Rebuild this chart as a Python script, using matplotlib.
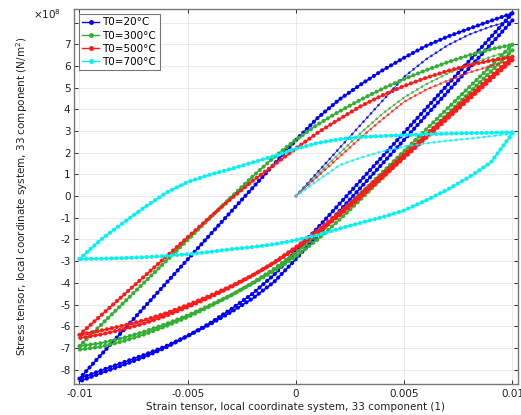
import numpy as np
import matplotlib
matplotlib.use('Agg')
import matplotlib.pyplot as plt
from matplotlib.lines import Line2D


# strain grids (units of 1e-3)
STRAIN_INIT = [0, 1, 2, 3, 4, 5, 6, 7, 8, 9, 10]
STRAIN_UP = [-10, -9, -8, -7, -6, -5, -4, -3, -2, -1, 0,
             1, 2, 3, 4, 5, 6, 7, 8, 9, 10]
STRAIN_DOWN = [10, 9, 8, 7, 6, 5, 4, 3, 2, 1, 0,
               -1, -2, -3, -4, -5, -6, -7, -8, -9, -10]

# stress (units of 1e8 N/m^2)
# T0 = 20 C
T20_INIT = [0, 1.1, 2.2, 3.3, 4.4, 5.5, 6.3, 6.95, 7.45, 7.82, 8.1]
T20_DOWN1 = [8.1, 7.0, 5.9, 4.8, 3.7, 2.6, 1.5, 0.4, -0.7, -1.8, -2.9,
             -3.95, -4.72, -5.35, -5.93, -6.45, -6.92, -7.32, -7.68, -8.04, -8.42]
T20_UP = [-8.42, -7.32, -6.22, -5.12, -4.02, -2.92, -1.82, -0.72, 0.38, 1.48, 2.58,
          3.6, 4.45, 5.15, 5.8, 6.38, 6.92, 7.35, 7.72, 8.08, 8.43]
T20_DOWN2 = [8.43, 7.33, 6.23, 5.13, 4.03, 2.93, 1.83, 0.73, -0.37, -1.47, -2.55,
             -3.62, -4.5, -5.22, -5.88, -6.45, -6.98, -7.42, -7.8, -8.16, -8.55]

# T0 = 300 C
T300_INIT = [0, 0.98, 1.96, 2.92, 3.8, 4.55, 5.15, 5.65, 6.07, 6.42, 6.72]
T300_DOWN1 = [6.72, 5.74, 4.76, 3.78, 2.8, 1.82, 0.84, -0.14, -1.1, -2.0, -2.78,
              -3.45, -4.03, -4.57, -5.05, -5.5, -5.9, -6.25, -6.55, -6.78, -6.92]
T300_UP = [-6.92, -5.94, -4.96, -3.98, -3.0, -2.02, -1.04, -0.06, 0.9, 1.8, 2.6,
           3.3, 3.9, 4.45, 4.95, 5.4, 5.8, 6.17, 6.5, 6.77, 6.98]
T300_DOWN2 = [6.98, 6.0, 5.02, 4.04, 3.06, 2.08, 1.1, 0.12, -0.84, -1.75, -2.6,
              -3.35, -4.0, -4.58, -5.1, -5.58, -6.0, -6.38, -6.7, -6.95, -7.08]

# T0 = 500 C
T500_INIT = [0, 0.9, 1.8, 2.7, 3.55, 4.35, 4.9, 5.32, 5.7, 6.0, 6.27]
T500_DOWN1 = [6.27, 5.37, 4.47, 3.57, 2.67, 1.77, 0.87, -0.03, -0.9, -1.7, -2.42,
              -3.08, -3.65, -4.15, -4.6, -5.02, -5.4, -5.72, -5.98, -6.2, -6.4]
T500_UP = [-6.4, -5.5, -4.6, -3.7, -2.8, -1.9, -1.0, -0.12, 0.7, 1.45, 2.2,
           2.92, 3.55, 4.15, 4.65, 5.08, 5.45, 5.77, 6.04, 6.25, 6.42]
T500_DOWN2 = [6.42, 5.52, 4.62, 3.72, 2.82, 1.92, 1.02, 0.12, -0.76, -1.58, -2.35,
              -3.05, -3.66, -4.2, -4.68, -5.12, -5.52, -5.87, -6.15, -6.38, -6.55]

# T0 = 700 C
T700_INIT = [0, 0.72, 1.42, 1.78, 2.06, 2.28, 2.43, 2.55, 2.65, 2.76, 2.88]
T700_DOWN = [2.9, 1.55, 0.88, 0.3, -0.2, -0.66, -0.97, -1.23, -1.5, -1.8, -2.03,
             -2.22, -2.35, -2.45, -2.58, -2.68, -2.76, -2.82, -2.86, -2.89, -2.9]
T700_UP = [-2.9, -2.0, -1.25, -0.52, 0.15, 0.65, 0.98, 1.25, 1.55, 1.85, 2.18,
           2.45, 2.62, 2.72, 2.77, 2.81, 2.85, 2.88, 2.9, 2.92, 2.94]

LABELS = ['T0=20°C', 'T0=300°C', 'T0=500°C', 'T0=700°C']
COLORS = ['#0000ff', '#33b033', '#ff1a1a', '#00f2f2']

CURVES = [
    (T20_INIT, [(STRAIN_DOWN, T20_DOWN1), (STRAIN_UP, T20_UP), (STRAIN_DOWN, T20_DOWN2)]),
    (T300_INIT, [(STRAIN_DOWN, T300_DOWN1), (STRAIN_UP, T300_UP), (STRAIN_DOWN, T300_DOWN2)]),
    (T500_INIT, [(STRAIN_DOWN, T500_DOWN1), (STRAIN_UP, T500_UP), (STRAIN_DOWN, T500_DOWN2)]),
    (T700_INIT, [(STRAIN_DOWN, T700_DOWN), (STRAIN_UP, T700_UP)]),
]


def beaded(ax, strain, stress, color, thin=False):
    x = np.asarray(strain) * 1e-3
    y = np.asarray(stress)
    if thin:
        ax.plot(x, y, color=color, lw=0.6, alpha=0.8)
        ax.plot(x, y, color=color, lw=2.0, ls=(0, (0.01, 2.0)),
                dash_capstyle='round', alpha=0.8)
    else:
        ax.plot(x, y, color=color, lw=1.1)
        ax.plot(x, y, color=color, lw=3.0, ls=(0, (0.01, 1.2)),
                dash_capstyle='round')


fig = plt.figure(figsize=(5.21, 4.15), dpi=100)
ax = fig.add_axes([0.142, 0.075, 0.852, 0.903])

for (init, branches), color in zip(CURVES, COLORS):
    beaded(ax, STRAIN_INIT, init, color, thin=True)
    for strain, stress in branches:
        beaded(ax, strain, stress, color)

ax.set_xlim(-0.01025, 0.01025)
ax.set_ylim(-8.66, 8.62)

ax.set_xticks([-0.01, -0.005, 0, 0.005, 0.01])
ax.set_xticklabels(['-0.01', '-0.005', '0', '0.005', '0.01'])
yt = list(range(-8, 9))
ax.set_yticks(yt)
ax.set_yticklabels([str(v) if v < 8 else '' for v in yt])

ax.tick_params(direction='in', top=True, right=True, length=3, width=0.7,
               labelsize=7.5, colors='#333333', labelcolor='#222222', pad=2.5)
ax.tick_params(axis='x', pad=4)
ax.grid(color='#e6e6e6', lw=0.6)
ax.set_axisbelow(True)
for s in ax.spines.values():
    s.set_color('#777777')
    s.set_linewidth(1.0)

ax.set_xlabel('Strain tensor, local coordinate system, 33 component (1)',
              fontsize=7.5, color='#222222', labelpad=2)
ax.set_ylabel('Stress tensor, local coordinate system, 33 component (N/m$^2$)',
              fontsize=7.5, color='#222222', labelpad=22)
fig.text(0.063, 0.955, r'$\times10^{8}$', fontsize=7.5, color='#222222')

handles = [Line2D([0], [0], color=c, lw=1.0, marker='o', markersize=2.5)
           for c in COLORS]
leg = ax.legend(handles, LABELS, loc='upper left', fontsize=7.5,
                handlelength=1.6, handletextpad=0.3, borderpad=0.35,
                labelspacing=0.3, borderaxespad=0.45, fancybox=False,
                framealpha=1, edgecolor='#777777')
leg.get_frame().set_linewidth(0.8)

fig.savefig('out.png', dpi=100)
